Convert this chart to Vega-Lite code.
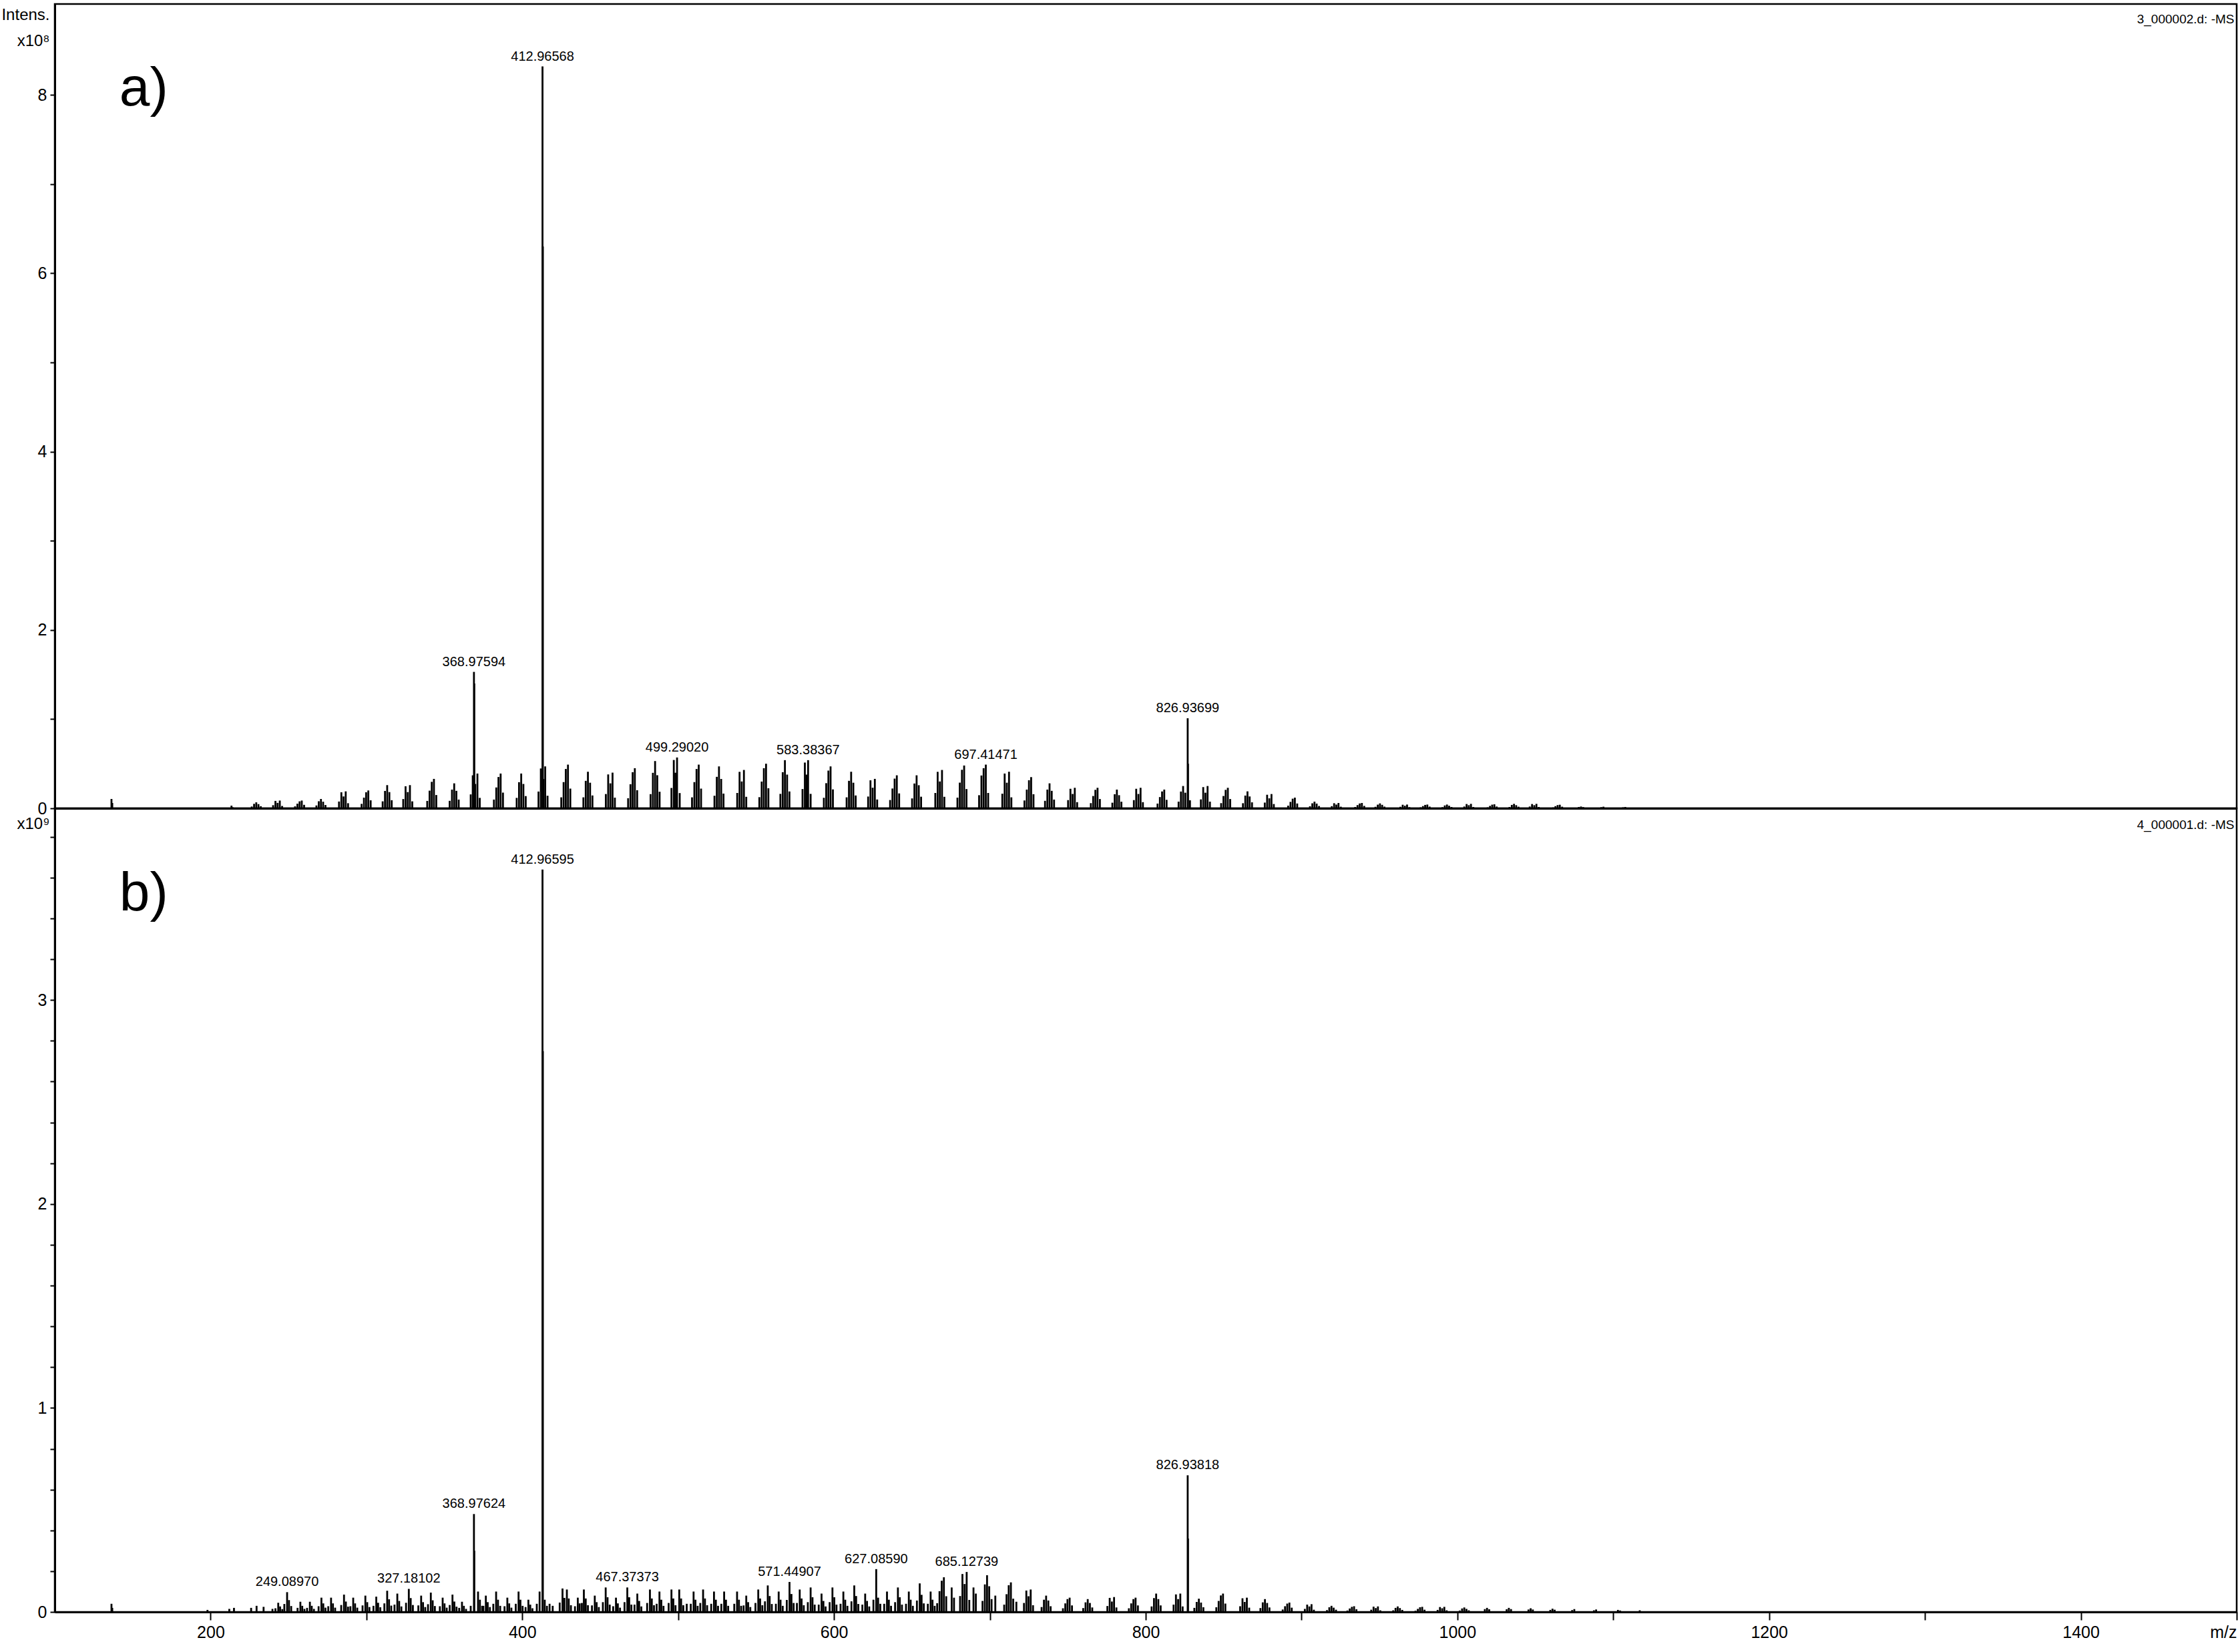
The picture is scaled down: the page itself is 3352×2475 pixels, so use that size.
{
"$schema": "https://vega.github.io/schema/vega-lite/v6.json",
"background": "white",
"padding": {"left": 0, "top": 4, "right": 0, "bottom": 5},
"bounds": "flush",
"spacing": 0,
"config": {
 "view": {"stroke": "black", "strokeWidth": 2.5},
 "axis": {"labelFont": "Liberation Sans, Arial, sans-serif", "titleFont": "Liberation Sans, Arial, sans-serif", "labelColor": "black", "titleColor": "black", "domainColor": "black", "tickColor": "black", "grid": false, "labelFontSize": 25, "titleFontSize": 24, "titleFontWeight": "normal", "labelOverlap": false}
},
"datasets": {
"a": [
{"m":136.4,"i":0.105},{"m":136.9,"i":0.06},{"m":213.4,"i":0.03},{"m":214.1,"i":0.012},
{"m":226.4,"i":0.02},{"m":227.9,"i":0.05},{"m":229.3,"i":0.067},{"m":230.7,"i":0.047},{"m":232.2,"i":0.023},
{"m":240.1,"i":0.035},{"m":241.6,"i":0.083},{"m":243.0,"i":0.061},{"m":244.4,"i":0.087},{"m":245.9,"i":0.026},
{"m":254.2,"i":0.022},{"m":255.7,"i":0.052},{"m":257.1,"i":0.078},{"m":258.5,"i":0.087},{"m":260.0,"i":0.039},
{"m":267.9,"i":0.032},{"m":269.4,"i":0.079},{"m":270.8,"i":0.105},{"m":272.2,"i":0.074},{"m":273.7,"i":0.037},
{"m":282.4,"i":0.076},{"m":283.9,"i":0.18},{"m":285.3,"i":0.133},{"m":286.7,"i":0.19},{"m":288.2,"i":0.057},
{"m":296.9,"i":0.05},{"m":298.4,"i":0.12},{"m":299.8,"i":0.18},{"m":301.2,"i":0.2},{"m":302.7,"i":0.09},
{"m":310.4,"i":0.078},{"m":311.9,"i":0.195},{"m":313.3,"i":0.26},{"m":314.7,"i":0.182},{"m":316.2,"i":0.091},
{"m":323.6,"i":0.104},{"m":325.1,"i":0.247},{"m":326.5,"i":0.182},{"m":327.9,"i":0.26},{"m":329.4,"i":0.078},
{"m":339.0,"i":0.083},{"m":340.5,"i":0.198},{"m":341.9,"i":0.297},{"m":343.3,"i":0.33},{"m":344.8,"i":0.149},
{"m":353.4,"i":0.084},{"m":354.9,"i":0.21},{"m":356.3,"i":0.28},{"m":357.7,"i":0.196},{"m":359.2,"i":0.098},
{"m":366.9,"i":0.156},{"m":368.2,"i":0.37},{"m":369.8,"i":0.273},{"m":371.2,"i":0.39},{"m":372.7,"i":0.117},
{"m":381.8,"i":0.098},{"m":383.3,"i":0.234},{"m":384.7,"i":0.351},{"m":386.1,"i":0.39},{"m":387.6,"i":0.176},
{"m":396.4,"i":0.117},{"m":397.9,"i":0.293},{"m":399.3,"i":0.39},{"m":400.7,"i":0.273},{"m":402.2,"i":0.137},
{"m":410.4,"i":0.188},{"m":411.9,"i":0.447},{"m":413.6,"i":0.329},{"m":414.7,"i":0.47},{"m":416.2,"i":0.141},
{"m":425.0,"i":0.123},{"m":426.5,"i":0.294},{"m":427.9,"i":0.441},{"m":429.3,"i":0.49},{"m":430.8,"i":0.221},
{"m":439.2,"i":0.123},{"m":440.7,"i":0.308},{"m":442.1,"i":0.41},{"m":443.5,"i":0.287},{"m":445.0,"i":0.144},
{"m":453.6,"i":0.16},{"m":455.1,"i":0.38},{"m":456.5,"i":0.28},{"m":457.9,"i":0.40},{"m":459.4,"i":0.12},
{"m":467.9,"i":0.113},{"m":469.4,"i":0.27},{"m":470.8,"i":0.405},{"m":472.2,"i":0.45},{"m":473.7,"i":0.203},
{"m":482.3,"i":0.159},{"m":483.8,"i":0.398},{"m":485.2,"i":0.53},{"m":486.6,"i":0.371},{"m":488.1,"i":0.186},
{"m":495.7,"i":0.228},{"m":497.2,"i":0.542},{"m":498.2,"i":0.399},{"m":499.29,"i":0.57},{"m":501.0,"i":0.171},
{"m":508.9,"i":0.123},{"m":510.4,"i":0.294},{"m":511.8,"i":0.441},{"m":513.2,"i":0.49},{"m":514.7,"i":0.221},
{"m":523.3,"i":0.141},{"m":524.8,"i":0.353},{"m":526.2,"i":0.47},{"m":527.6,"i":0.329},{"m":529.1,"i":0.165},
{"m":537.9,"i":0.172},{"m":539.4,"i":0.409},{"m":540.8,"i":0.301},{"m":542.2,"i":0.43},{"m":543.7,"i":0.129},
{"m":552.1,"i":0.125},{"m":553.6,"i":0.30},{"m":555.0,"i":0.45},{"m":556.4,"i":0.50},{"m":557.9,"i":0.225},
{"m":565.6,"i":0.162},{"m":567.1,"i":0.405},{"m":568.5,"i":0.54},{"m":569.9,"i":0.378},{"m":571.4,"i":0.189},
{"m":579.8,"i":0.216},{"m":581.3,"i":0.513},{"m":582.3,"i":0.378},{"m":583.38,"i":0.54},{"m":585.0,"i":0.162},
{"m":593.5,"i":0.118},{"m":595.0,"i":0.282},{"m":596.4,"i":0.423},{"m":597.8,"i":0.47},{"m":599.3,"i":0.212},
{"m":608.1,"i":0.123},{"m":609.6,"i":0.308},{"m":611.0,"i":0.41},{"m":612.4,"i":0.287},{"m":613.9,"i":0.144},
{"m":621.9,"i":0.132},{"m":623.4,"i":0.314},{"m":624.8,"i":0.231},{"m":626.2,"i":0.33},{"m":627.7,"i":0.099},
{"m":636.0,"i":0.093},{"m":637.5,"i":0.222},{"m":638.9,"i":0.333},{"m":640.3,"i":0.37},{"m":641.8,"i":0.167},
{"m":650.1,"i":0.111},{"m":651.6,"i":0.278},{"m":653.0,"i":0.37},{"m":654.4,"i":0.259},{"m":655.9,"i":0.13},
{"m":665.0,"i":0.172},{"m":666.5,"i":0.409},{"m":667.9,"i":0.301},{"m":669.3,"i":0.43},{"m":670.8,"i":0.129},
{"m":679.2,"i":0.12},{"m":680.7,"i":0.288},{"m":682.1,"i":0.432},{"m":683.5,"i":0.48},{"m":685.0,"i":0.216},
{"m":693.1,"i":0.147},{"m":694.6,"i":0.368},{"m":696.0,"i":0.45},{"m":697.41,"i":0.49},{"m":698.9,"i":0.172},
{"m":708.0,"i":0.164},{"m":709.5,"i":0.39},{"m":710.9,"i":0.287},{"m":712.3,"i":0.41},{"m":713.8,"i":0.123},
{"m":722.2,"i":0.088},{"m":723.7,"i":0.21},{"m":725.1,"i":0.315},{"m":726.5,"i":0.35},{"m":728.0,"i":0.158},
{"m":735.4,"i":0.084},{"m":736.9,"i":0.21},{"m":738.3,"i":0.28},{"m":739.7,"i":0.196},{"m":741.2,"i":0.098},
{"m":750.2,"i":0.092},{"m":751.7,"i":0.219},{"m":753.1,"i":0.161},{"m":754.5,"i":0.23},{"m":756.0,"i":0.069},
{"m":764.8,"i":0.058},{"m":766.3,"i":0.138},{"m":767.7,"i":0.207},{"m":769.1,"i":0.23},{"m":770.6,"i":0.104},
{"m":778.6,"i":0.063},{"m":780.1,"i":0.158},{"m":781.5,"i":0.21},{"m":782.9,"i":0.147},{"m":784.4,"i":0.074},
{"m":792.4,"i":0.092},{"m":793.9,"i":0.219},{"m":795.3,"i":0.161},{"m":796.7,"i":0.23},{"m":798.2,"i":0.069},
{"m":807.6,"i":0.053},{"m":809.1,"i":0.126},{"m":810.5,"i":0.189},{"m":811.9,"i":0.21},{"m":813.4,"i":0.095},
{"m":821.1,"i":0.075},{"m":822.6,"i":0.188},{"m":824.0,"i":0.25},{"m":825.4,"i":0.175},{"m":828.4,"i":0.09},
{"m":835.4,"i":0.1},{"m":836.9,"i":0.238},{"m":838.3,"i":0.175},{"m":839.7,"i":0.25},{"m":841.2,"i":0.075},
{"m":848.4,"i":0.058},{"m":849.9,"i":0.138},{"m":851.3,"i":0.207},{"m":852.7,"i":0.23},{"m":854.2,"i":0.104},
{"m":862.4,"i":0.057},{"m":863.9,"i":0.143},{"m":865.3,"i":0.19},{"m":866.7,"i":0.133},{"m":868.2,"i":0.067},
{"m":876.4,"i":0.064},{"m":877.9,"i":0.152},{"m":879.3,"i":0.112},{"m":880.7,"i":0.16},{"m":882.2,"i":0.048},
{"m":891.4,"i":0.03},{"m":892.9,"i":0.072},{"m":894.3,"i":0.108},{"m":895.7,"i":0.12},{"m":897.2,"i":0.054},
{"m":905.4,"i":0.023},{"m":906.9,"i":0.056},{"m":908.3,"i":0.075},{"m":909.7,"i":0.053},{"m":911.2,"i":0.026},
{"m":919.4,"i":0.024},{"m":920.9,"i":0.057},{"m":922.3,"i":0.042},{"m":923.7,"i":0.06},{"m":925.2,"i":0.018},
{"m":934.4,"i":0.015},{"m":935.9,"i":0.036},{"m":937.3,"i":0.054},{"m":938.7,"i":0.06},{"m":940.2,"i":0.027},
{"m":947.4,"i":0.017},{"m":948.9,"i":0.041},{"m":950.3,"i":0.055},{"m":951.7,"i":0.039},{"m":953.2,"i":0.019},
{"m":963.4,"i":0.017},{"m":964.9,"i":0.04},{"m":966.3,"i":0.029},{"m":967.7,"i":0.042},{"m":969.2,"i":0.013},
{"m":976.4,"i":0.011},{"m":977.9,"i":0.025},{"m":979.3,"i":0.038},{"m":980.7,"i":0.042},{"m":982.2,"i":0.019},
{"m":990.4,"i":0.013},{"m":991.9,"i":0.032},{"m":993.3,"i":0.042},{"m":994.7,"i":0.029},{"m":996.2,"i":0.015},
{"m":1004.4,"i":0.02},{"m":1005.9,"i":0.048},{"m":1007.3,"i":0.035},{"m":1008.7,"i":0.05},{"m":1010.2,"i":0.015},
{"m":1019.4,"i":0.011},{"m":1020.9,"i":0.027},{"m":1022.3,"i":0.041},{"m":1023.7,"i":0.045},{"m":1025.2,"i":0.02},
{"m":1033.4,"i":0.015},{"m":1034.9,"i":0.038},{"m":1036.3,"i":0.05},{"m":1037.7,"i":0.035},{"m":1039.2,"i":0.018},
{"m":1046.4,"i":0.02},{"m":1047.9,"i":0.048},{"m":1049.3,"i":0.035},{"m":1050.7,"i":0.05},{"m":1052.2,"i":0.015},
{"m":1061.4,"i":0.01},{"m":1062.9,"i":0.024},{"m":1064.3,"i":0.036},{"m":1065.7,"i":0.04},{"m":1067.2,"i":0.018},
{"m":1077.9,"i":0.015},{"m":1079.3,"i":0.02},{"m":1080.7,"i":0.014},
{"m":1092.3,"i":0.013},{"m":1093.7,"i":0.018},{"m":1106.3,"i":0.011},{"m":1107.7,"i":0.015},
{"m":368.97594,"i":1.53},{"m":369.2,"i":1.4},{"m":412.96568,"i":8.32},{"m":413.2,"i":6.3},{"m":826.93699,"i":1.01},{"m":827.15,"i":0.5}
],
"b": [
{"m":136.4,"i":0.04},{"m":136.9,"i":0.02},{"m":198.0,"i":0.01},{"m":212.0,"i":0.015},{"m":215.0,"i":0.02},{"m":226.0,"i":0.02},{"m":229.5,"i":0.03},{"m":234.0,"i":0.025},{"m":239.7,"i":0.015},
{"m":241.6,"i":0.018},{"m":243.4,"i":0.045},{"m":244.6,"i":0.027},{"m":246.0,"i":0.014},
{"m":247.3,"i":0.039},{"m":249.0897,"i":0.097},{"m":250.3,"i":0.058},{"m":251.7,"i":0.029},
{"m":255.8,"i":0.02},{"m":257.6,"i":0.05},{"m":258.8,"i":0.03},{"m":260.2,"i":0.015},
{"m":261.9,"i":0.02},{"m":263.7,"i":0.05},{"m":264.9,"i":0.03},{"m":266.3,"i":0.015},
{"m":269.3,"i":0.028},{"m":271.1,"i":0.07},{"m":272.3,"i":0.042},{"m":273.7,"i":0.021},
{"m":275.5,"i":0.028},{"m":277.3,"i":0.07},{"m":278.5,"i":0.042},{"m":279.9,"i":0.021},
{"m":283.8,"i":0.034},{"m":285.6,"i":0.085},{"m":286.8,"i":0.051},{"m":288.2,"i":0.026},
{"m":289.7,"i":0.028},{"m":291.5,"i":0.07},{"m":292.7,"i":0.042},{"m":294.1,"i":0.021},
{"m":297.5,"i":0.032},{"m":299.3,"i":0.08},{"m":300.5,"i":0.048},{"m":301.9,"i":0.024},
{"m":304.5,"i":0.03},{"m":306.3,"i":0.075},{"m":307.5,"i":0.045},{"m":308.9,"i":0.023},
{"m":311.5,"i":0.042},{"m":313.3,"i":0.104},{"m":314.5,"i":0.062},{"m":315.9,"i":0.031},
{"m":318.0,"i":0.036},{"m":319.8,"i":0.09},{"m":321.0,"i":0.054},{"m":322.4,"i":0.027},
{"m":325.4,"i":0.045},{"m":327.18102,"i":0.113},{"m":328.4,"i":0.068},{"m":329.8,"i":0.034},
{"m":333.3,"i":0.032},{"m":335.1,"i":0.08},{"m":336.3,"i":0.048},{"m":337.7,"i":0.024},
{"m":339.5,"i":0.038},{"m":341.3,"i":0.095},{"m":342.5,"i":0.057},{"m":343.9,"i":0.029},
{"m":347.1,"i":0.028},{"m":348.9,"i":0.07},{"m":350.1,"i":0.042},{"m":351.5,"i":0.021},
{"m":353.4,"i":0.034},{"m":355.2,"i":0.085},{"m":356.4,"i":0.051},{"m":357.8,"i":0.026},
{"m":359.5,"i":0.02},{"m":361.3,"i":0.05},{"m":362.5,"i":0.03},{"m":363.9,"i":0.015},
{"m":366.9,"i":0.03},{"m":368.97624,"i":0.48},{"m":369.2,"i":0.3},
{"m":371.6,"i":0.1},{"m":372.8,"i":0.06},{"m":374.2,"i":0.03},
{"m":375.0,"i":0.03},{"m":376.6,"i":0.08},{"m":377.8,"i":0.048},{"m":379.2,"i":0.024},
{"m":381.4,"i":0.04},{"m":383.2,"i":0.1},{"m":384.4,"i":0.06},{"m":385.8,"i":0.03},
{"m":388.6,"i":0.028},{"m":390.4,"i":0.07},{"m":391.6,"i":0.042},{"m":393.0,"i":0.021},
{"m":395.8,"i":0.04},{"m":397.6,"i":0.1},{"m":398.8,"i":0.06},{"m":400.2,"i":0.03},
{"m":402.1,"i":0.024},{"m":403.9,"i":0.06},{"m":405.1,"i":0.036},{"m":406.5,"i":0.018},
{"m":409.3,"i":0.04},{"m":411.1,"i":0.1},
{"m":412.96595,"i":3.64},{"m":413.2,"i":2.75},{"m":414.4,"i":0.06},{"m":415.8,"i":0.03},{"m":417.5,"i":0.04},{"m":419.5,"i":0.03},
{"m":424.0,"i":0.046},{"m":425.8,"i":0.115},{"m":427.0,"i":0.069},
{"m":428.6,"i":0.11},{"m":429.8,"i":0.066},{"m":431.2,"i":0.033},
{"m":433.8,"i":0.028},{"m":435.6,"i":0.07},{"m":436.8,"i":0.042},
{"m":438.2,"i":0.044},{"m":439.5,"i":0.11},{"m":440.7,"i":0.066},{"m":442.1,"i":0.033},
{"m":444.7,"i":0.032},{"m":446.5,"i":0.08},{"m":447.7,"i":0.048},{"m":449.1,"i":0.024},
{"m":451.7,"i":0.048},{"m":453.5,"i":0.12},{"m":454.7,"i":0.072},{"m":456.1,"i":0.036},
{"m":458.3,"i":0.028},{"m":460.1,"i":0.07},{"m":461.3,"i":0.042},{"m":462.7,"i":0.021},
{"m":465.6,"i":0.048},{"m":467.37373,"i":0.12},{"m":468.6,"i":0.072},{"m":470.0,"i":0.036},
{"m":472.0,"i":0.036},{"m":473.8,"i":0.09},{"m":475.0,"i":0.054},{"m":476.4,"i":0.027},
{"m":480.1,"i":0.044},{"m":481.9,"i":0.11},{"m":483.1,"i":0.066},{"m":484.5,"i":0.033},
{"m":486.2,"i":0.04},{"m":488.0,"i":0.1},{"m":489.2,"i":0.06},{"m":490.6,"i":0.03},
{"m":493.9,"i":0.044},{"m":495.7,"i":0.11},{"m":496.9,"i":0.066},{"m":498.3,"i":0.033},
{"m":500.7,"i":0.11},{"m":501.9,"i":0.066},{"m":503.3,"i":0.033},{"m":505.5,"i":0.04},
{"m":508.1,"i":0.04},{"m":509.9,"i":0.1},{"m":511.1,"i":0.06},{"m":512.5,"i":0.03},
{"m":514.2,"i":0.044},{"m":516.0,"i":0.11},{"m":517.2,"i":0.066},{"m":518.6,"i":0.033},
{"m":521.2,"i":0.04},{"m":523.0,"i":0.1},{"m":524.2,"i":0.06},{"m":525.6,"i":0.03},
{"m":527.7,"i":0.04},{"m":529.5,"i":0.1},{"m":530.7,"i":0.06},{"m":532.1,"i":0.03},
{"m":536.0,"i":0.04},{"m":537.8,"i":0.1},{"m":539.0,"i":0.06},{"m":540.4,"i":0.03},
{"m":542.0,"i":0.032},{"m":543.7,"i":0.08},{"m":544.9,"i":0.048},{"m":546.3,"i":0.024},
{"m":549.6,"i":0.044},{"m":551.4,"i":0.11},{"m":552.6,"i":0.066},{"m":554.0,"i":0.033},
{"m":555.7,"i":0.052},{"m":557.5,"i":0.13},{"m":558.7,"i":0.078},{"m":560.1,"i":0.039},
{"m":562.7,"i":0.04},{"m":564.5,"i":0.1},{"m":565.7,"i":0.06},{"m":567.1,"i":0.03},
{"m":569.7,"i":0.059},{"m":571.44907,"i":0.147},{"m":572.7,"i":0.088},{"m":574.1,"i":0.044},
{"m":576.2,"i":0.044},{"m":578.0,"i":0.11},{"m":579.2,"i":0.066},{"m":580.6,"i":0.033},
{"m":583.2,"i":0.048},{"m":585.0,"i":0.12},{"m":586.2,"i":0.072},{"m":587.6,"i":0.036},
{"m":590.2,"i":0.036},{"m":592.0,"i":0.09},{"m":593.2,"i":0.054},{"m":594.6,"i":0.027},
{"m":597.2,"i":0.048},{"m":599.0,"i":0.12},{"m":600.2,"i":0.072},{"m":601.6,"i":0.036},
{"m":604.2,"i":0.04},{"m":606.0,"i":0.1},{"m":607.2,"i":0.06},{"m":608.6,"i":0.03},
{"m":611.2,"i":0.052},{"m":613.0,"i":0.13},{"m":614.2,"i":0.078},{"m":615.6,"i":0.039},
{"m":618.2,"i":0.036},{"m":620.0,"i":0.09},{"m":621.2,"i":0.054},{"m":622.6,"i":0.027},
{"m":625.3,"i":0.06},{"m":627.0859,"i":0.21},{"m":628.3,"i":0.07},{"m":629.7,"i":0.04},
{"m":632.2,"i":0.04},{"m":634.0,"i":0.1},{"m":635.2,"i":0.06},{"m":636.6,"i":0.03},
{"m":639.2,"i":0.048},{"m":641.0,"i":0.12},{"m":642.2,"i":0.072},{"m":643.6,"i":0.036},
{"m":646.2,"i":0.04},{"m":648.0,"i":0.1},{"m":649.2,"i":0.06},{"m":650.6,"i":0.03},
{"m":653.2,"i":0.056},{"m":655.0,"i":0.14},{"m":656.2,"i":0.084},{"m":657.6,"i":0.042},
{"m":660.2,"i":0.04},{"m":662.0,"i":0.1},{"m":663.2,"i":0.06},{"m":664.6,"i":0.03},
{"m":666.2,"i":0.043},{"m":667.7,"i":0.102},{"m":669.1,"i":0.153},{"m":670.5,"i":0.17},{"m":672.0,"i":0.077},{"m":675.5,"i":0.12},{"m":677.0,"i":0.07},
{"m":680.9,"i":0.078},{"m":682.4,"i":0.186},{"m":683.8,"i":0.137},{"m":685.12739,"i":0.196},{"m":686.8,"i":0.059},{"m":689.5,"i":0.12},{"m":691.0,"i":0.09},
{"m":695.3,"i":0.054},{"m":696.8,"i":0.135},{"m":698.2,"i":0.18},{"m":699.6,"i":0.126},{"m":701.1,"i":0.063},{"m":703.5,"i":0.08},
{"m":709.2,"i":0.036},{"m":710.7,"i":0.087},{"m":712.1,"i":0.131},{"m":713.5,"i":0.145},{"m":715.0,"i":0.065},{"m":717.0,"i":0.05},
{"m":721.9,"i":0.044},{"m":723.4,"i":0.105},{"m":724.8,"i":0.077},{"m":726.2,"i":0.11},{"m":727.7,"i":0.033},
{"m":733.2,"i":0.024},{"m":734.7,"i":0.06},{"m":736.1,"i":0.08},{"m":737.5,"i":0.056},{"m":739.0,"i":0.028},
{"m":746.9,"i":0.018},{"m":748.4,"i":0.042},{"m":749.8,"i":0.063},{"m":751.2,"i":0.07},{"m":752.7,"i":0.032},
{"m":759.9,"i":0.019},{"m":761.4,"i":0.047},{"m":762.8,"i":0.063},{"m":764.2,"i":0.044},{"m":765.7,"i":0.022},
{"m":775.4,"i":0.029},{"m":776.9,"i":0.069},{"m":778.3,"i":0.051},{"m":779.7,"i":0.073},{"m":781.2,"i":0.022},
{"m":789.2,"i":0.018},{"m":790.7,"i":0.042},{"m":792.1,"i":0.063},{"m":793.5,"i":0.07},{"m":795.0,"i":0.032},
{"m":803.8,"i":0.027},{"m":805.3,"i":0.068},{"m":806.7,"i":0.09},{"m":808.1,"i":0.063},{"m":809.6,"i":0.032},
{"m":817.9,"i":0.036},{"m":819.4,"i":0.086},{"m":820.8,"i":0.063},{"m":822.2,"i":0.09},{"m":823.7,"i":0.027},
{"m":826.93818,"i":0.67},{"m":827.15,"i":0.36},
{"m":831.2,"i":0.02},{"m":832.7,"i":0.049},{"m":834.1,"i":0.065},{"m":835.5,"i":0.046},{"m":837.0,"i":0.023},
{"m":845.3,"i":0.023},{"m":846.8,"i":0.054},{"m":848.2,"i":0.081},{"m":849.6,"i":0.09},{"m":851.1,"i":0.041},
{"m":860.6,"i":0.028},{"m":862.1,"i":0.067},{"m":863.5,"i":0.049},{"m":864.9,"i":0.07},{"m":866.4,"i":0.021},
{"m":873.6,"i":0.019},{"m":875.1,"i":0.047},{"m":876.5,"i":0.063},{"m":877.9,"i":0.044},{"m":879.4,"i":0.022},
{"m":887.9,"i":0.012},{"m":889.4,"i":0.028},{"m":890.8,"i":0.041},{"m":892.2,"i":0.046},{"m":893.7,"i":0.021},
{"m":902.1,"i":0.015},{"m":903.6,"i":0.036},{"m":905.0,"i":0.027},{"m":906.4,"i":0.038},{"m":907.9,"i":0.011},
{"m":916.3,"i":0.009},{"m":917.8,"i":0.023},{"m":919.2,"i":0.03},{"m":920.6,"i":0.021},{"m":922.1,"i":0.011},
{"m":929.4,"i":0.007},{"m":930.9,"i":0.017},{"m":932.3,"i":0.025},{"m":933.7,"i":0.028},{"m":935.2,"i":0.013},
{"m":944.7,"i":0.011},{"m":946.2,"i":0.026},{"m":947.6,"i":0.019},{"m":949.0,"i":0.027},{"m":950.5,"i":0.008},
{"m":958.8,"i":0.008},{"m":960.3,"i":0.02},{"m":961.7,"i":0.027},{"m":963.1,"i":0.019},{"m":964.6,"i":0.01},
{"m":973.1,"i":0.006},{"m":974.6,"i":0.015},{"m":976.0,"i":0.023},{"m":977.4,"i":0.025},{"m":978.9,"i":0.011},
{"m":987.3,"i":0.01},{"m":988.8,"i":0.024},{"m":990.2,"i":0.018},{"m":991.6,"i":0.025},{"m":993.1,"i":0.008},
{"m":1001.5,"i":0.007},{"m":1003.0,"i":0.017},{"m":1004.4,"i":0.022},{"m":1005.8,"i":0.015},{"m":1007.3,"i":0.008},
{"m":1017.6,"i":0.014},{"m":1019.0,"i":0.02},{"m":1020.4,"i":0.013},
{"m":1031.6,"i":0.013},{"m":1033.0,"i":0.02},{"m":1034.4,"i":0.014},
{"m":1045.6,"i":0.012},{"m":1047.0,"i":0.018},{"m":1048.4,"i":0.012},
{"m":1059.6,"i":0.01},{"m":1061.0,"i":0.016},{"m":1062.4,"i":0.011},
{"m":1073.6,"i":0.009},{"m":1075.0,"i":0.014},{"m":1087.6,"i":0.008},{"m":1089.0,"i":0.012},
{"m":1103.0,"i":0.01},{"m":1104.4,"i":0.007},{"m":1117.0,"i":0.008}
],
"la": [
{"m":368.97594,"i":1.53,"t":"368.97594"},{"m":412.96568,"i":8.32,"t":"412.96568"},{"m":499.2902,"i":0.57,"t":"499.29020"},{"m":583.38367,"i":0.54,"t":"583.38367"},{"m":697.41471,"i":0.49,"t":"697.41471"},{"m":826.93699,"i":1.01,"t":"826.93699"}
],
"lb": [
{"m":249.0897,"i":0.097,"t":"249.08970"},{"m":327.18102,"i":0.113,"t":"327.18102"},{"m":368.97624,"i":0.48,"t":"368.97624"},{"m":412.96595,"i":3.64,"t":"412.96595"},{"m":467.37373,"i":0.12,"t":"467.37373"},{"m":571.44907,"i":0.147,"t":"571.44907"},{"m":627.0859,"i":0.21,"t":"627.08590"},{"m":685.12739,"i":0.196,"t":"685.12739"},{"m":826.93818,"i":0.67,"t":"826.93818"}
]
},
"vconcat": [
{
 "width": 3268, "height": 1205,
 "layer": [
  {"data": {"name": "a"}, "mark": {"type": "rule", "color": "black", "strokeWidth": 2.8},
   "encoding": {
    "x": {"field": "m", "type": "quantitative", "scale": {"domain": [100, 1500], "nice": false, "zero": false}, "axis": {"title": null, "labels": false, "ticks": false, "domain": true, "domainWidth": 3}},
    "y": {"field": "i", "type": "quantitative", "scale": {"domain": [0, 9.02], "nice": false}, "axis": {"title": ["Intens.", "x10⁸"], "titleAngle": 0, "titleAlign": "right", "titleBaseline": "alphabetic", "titleX": -8, "titleY": 23, "titleLineHeight": 39, "values": [0,1,2,3,4,5,6,7,8], "format": "d", "labelExpr": "datum.value % 2 == 0 ? datum.label : ''", "tickSize": 7, "tickWidth": 2, "domainWidth": 3, "labelPadding": 5}},
    "y2": {"datum": 0}
   }},
  {"data": {"name": "la"}, "mark": {"type": "text", "baseline": "alphabetic", "align": "center", "dy": -9, "fontSize": 20, "font": "Liberation Sans, Arial, sans-serif", "color": "black"},
   "encoding": {"x": {"field": "m", "type": "quantitative"}, "y": {"field": "i", "type": "quantitative"}, "text": {"field": "t"}}},
  {"data": {"values": [{"t": "a)"}]}, "mark": {"type": "text", "align": "left", "baseline": "alphabetic", "fontSize": 82, "font": "Liberation Sans, Arial, sans-serif", "color": "black"},
   "encoding": {"x": {"datum": 141.5, "type": "quantitative"}, "y": {"datum": 7.88, "type": "quantitative"}, "text": {"field": "t"}}},
  {"data": {"values": [{"t": "3_000002.d: -MS"}]}, "mark": {"type": "text", "align": "right", "baseline": "alphabetic", "fontSize": 19, "font": "Liberation Sans, Arial, sans-serif", "color": "black"},
   "encoding": {"x": {"datum": 1498.5, "type": "quantitative"}, "y": {"datum": 8.8, "type": "quantitative"}, "text": {"field": "t"}}}
 ]
},
{
 "width": 3268, "height": 1204,
 "layer": [
  {"data": {"name": "b"}, "mark": {"type": "rule", "color": "black", "strokeWidth": 2.8},
   "encoding": {
    "x": {"field": "m", "type": "quantitative", "scale": {"domain": [100, 1500], "nice": false, "zero": false}, "axis": {"title": null, "values": [200,300,400,500,600,700,800,900,1000,1100,1200,1300,1400,1500], "format": "d", "labelExpr": "datum.value == 1500 ? 'm/z' : (datum.value % 200 == 0 ? datum.label : '')", "labelFlush": true, "tickSize": 12, "tickWidth": 2, "domainWidth": 3, "labelPadding": 6}},
    "y": {"field": "i", "type": "quantitative", "scale": {"domain": [0, 3.94], "nice": false}, "axis": {"title": "x10⁹", "titleAngle": 0, "titleAlign": "right", "titleBaseline": "alphabetic", "titleX": -8, "titleY": 30, "values": [0,0.2,0.4,0.6,0.8,1,1.2,1.4,1.6,1.8,2,2.2,2.4,2.6,2.8,3,3.2,3.4,3.6,3.8], "labelExpr": "datum.value % 1 == 0 ? format(datum.value, 'd') : ''", "tickSize": 7, "tickWidth": 2, "domainWidth": 3, "labelPadding": 5}},
    "y2": {"datum": 0}
   }},
  {"data": {"name": "lb"}, "mark": {"type": "text", "baseline": "alphabetic", "align": "center", "dy": -9, "fontSize": 20, "font": "Liberation Sans, Arial, sans-serif", "color": "black"},
   "encoding": {"x": {"field": "m", "type": "quantitative"}, "y": {"field": "i", "type": "quantitative"}, "text": {"field": "t"}}},
  {"data": {"values": [{"t": "b)"}]}, "mark": {"type": "text", "align": "left", "baseline": "alphabetic", "fontSize": 82, "font": "Liberation Sans, Arial, sans-serif", "color": "black"},
   "encoding": {"x": {"datum": 141.5, "type": "quantitative"}, "y": {"datum": 3.44, "type": "quantitative"}, "text": {"field": "t"}}},
  {"data": {"values": [{"t": "4_000001.d: -MS"}]}, "mark": {"type": "text", "align": "right", "baseline": "alphabetic", "fontSize": 19, "font": "Liberation Sans, Arial, sans-serif", "color": "black"},
   "encoding": {"x": {"datum": 1498.5, "type": "quantitative"}, "y": {"datum": 3.84, "type": "quantitative"}, "text": {"field": "t"}}}
 ]
}
]
}
